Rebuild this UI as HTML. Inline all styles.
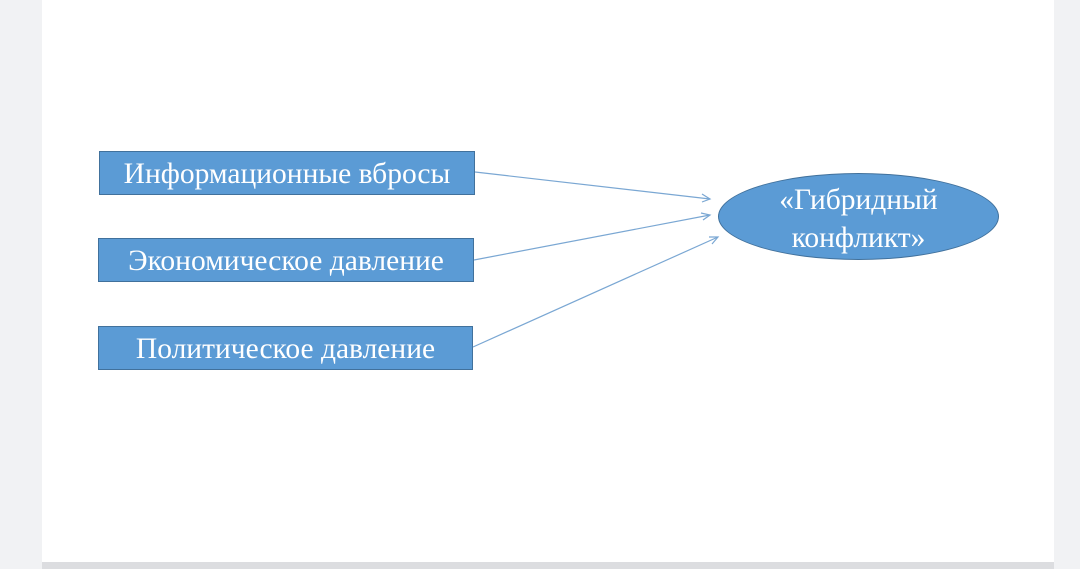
<!DOCTYPE html>
<html><head><meta charset="utf-8"><style>
body{margin:0;width:1080px;height:569px;background:#f1f2f4;position:relative;overflow:hidden;font-family:"Liberation Serif",serif}
.page{position:absolute;left:42px;top:0;width:1012px;height:562px;background:#fff}
.bar{position:absolute;left:42px;top:562px;width:1012px;height:7px;background:#dcdde0}
.box{position:absolute;background:#5b9bd5;border:1px solid #41719c;color:#fff;font-size:29.5px;text-align:center;box-sizing:border-box;line-height:44px;white-space:nowrap}
.ell{position:absolute;left:718px;top:173px;width:281px;height:87px;border-radius:50%;background:#5b9bd5;border:1px solid #41719c;box-sizing:border-box;color:#fff;font-size:29.5px;text-align:center;line-height:38px;padding-top:7px}
</style></head><body>
<div class="page"></div><div class="bar"></div>
<div class="box" style="left:99px;top:151px;width:376px;height:44px">Информационные вбросы</div>
<div class="box" style="left:98px;top:238px;width:376px;height:44px">Экономическое давление</div>
<div class="box" style="left:98px;top:326px;width:375px;height:44px">Политическое давление</div>
<div class="ell">«Гибридный<br>конфликт»</div>
<svg width="1080" height="569" style="position:absolute;left:0;top:0">
<g stroke="#7aa7d3" stroke-width="1.2" fill="none">
<line x1="475" y1="172" x2="710" y2="199"/><polyline points="702,194 710,199 702,202"/>
<line x1="474" y1="260" x2="710" y2="215"/><polyline points="701,213 710,215 703,220"/>
<line x1="473" y1="347" x2="718" y2="237"/><polyline points="709,237 718,237 712,244"/>
</g></svg>
</body></html>
